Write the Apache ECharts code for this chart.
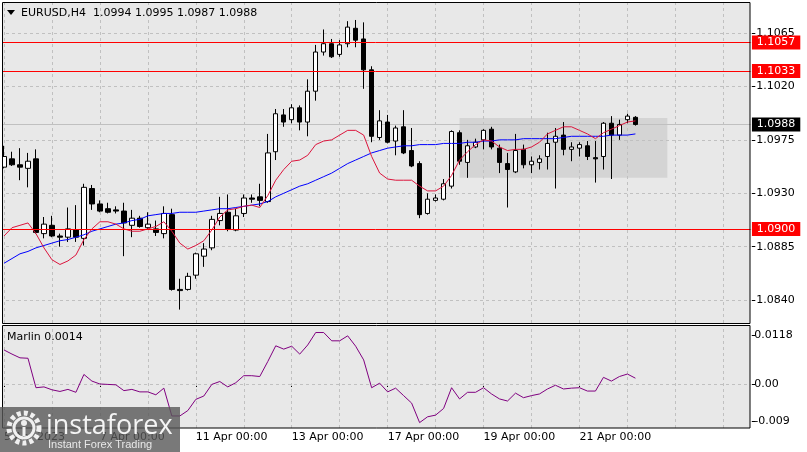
<!DOCTYPE html>
<html><head><meta charset="utf-8">
<script src="https://cdn.jsdelivr.net/npm/echarts@6/dist/echarts.min.js"></script>
<style>html,body{margin:0;padding:0;background:#fff}#c{width:807px;height:452px}</style>
</head><body><div id="c"></div>
<script>
// ---- data (EURUSD H4) ----
const opens = [1.0952,1.0959,1.0954,1.0951,1.0959,1.0896,1.0903,1.0894,1.0893,1.0899,
 1.0892,1.0934,1.0921,1.0917,1.0916,1.0915,1.0903,1.0909,1.0901,1.0900,
 1.0896,1.0912,1.0849,1.0849,1.0861,1.0877,1.0884,1.0907,1.0914,1.0899,
 1.0913,1.0926,1.0927,1.0923,1.0965,1.0996,1.0992,1.1002,1.0990,1.1016,
 1.1049,1.1056,1.1047,1.1056,1.1069,1.1060,1.1034,1.0977,1.0990,1.0974,
 1.0986,1.0966,1.0955,1.0913,1.0924,1.0925,1.0936,1.0981,1.0956,1.0969,
 1.0975,1.0984,1.0968,1.0955,1.0948,1.0967,1.0954,1.0956,1.0961,1.0973,
 1.0979,1.0967,1.0968,1.0970,1.0960,1.0961,1.0989,1.0979,1.0992,1.0994];
const closes = [1.0961,1.0954,1.0952,1.0957,1.0897,1.0904,1.0894,1.0893,1.0900,1.0893,
 1.0935,1.0921,1.0915,1.0914,1.0915,1.0905,1.0909,1.0902,1.0904,1.0897,
 1.0913,1.0849,1.0848,1.0860,1.0879,1.0883,1.0908,1.0913,1.0900,1.0911,
 1.0926,1.0925,1.0924,1.0964,1.0997,1.0990,1.1002,1.0990,1.1016,1.1049,
 1.1056,1.1045,1.1055,1.1070,1.1059,1.1034,1.0978,1.0991,1.0973,1.0985,
 1.0964,1.0953,1.0912,1.0925,1.0926,1.0938,1.0982,1.0957,1.0970,1.0973,
 1.0983,1.0969,1.0956,1.0950,1.0966,1.0954,1.0957,1.0959,1.0972,1.0978,
 1.0967,1.0969,1.0971,1.0961,1.0959,1.0989,1.0979,1.0988,1.0995,1.0988];
const lows = [1.0951,1.0953,1.0941,1.0935,1.0896,1.0892,1.0893,1.0885,1.0889,1.0889,
 1.0886,1.0916,1.0914,1.0913,1.0913,1.0877,1.0893,1.0901,1.0900,1.0894,
 1.0892,1.0848,1.0832,1.0848,1.0858,1.0868,1.0882,1.0903,1.0898,1.0898,
 1.0910,1.0922,1.0919,1.0922,1.0958,1.0986,1.0989,1.0983,1.0978,1.1008,
 1.1046,1.1044,1.1045,1.1053,1.1053,1.1018,1.0973,1.0975,1.0972,1.0962,
 1.0963,1.0952,1.0909,1.0912,1.0923,1.0924,1.0934,1.0954,1.0943,1.0968,
 1.0967,1.0967,1.0947,1.0918,1.0947,1.0951,1.0947,1.0950,1.0950,1.0934,
 1.0962,1.0957,1.0961,1.0958,1.0939,1.0950,1.0942,1.0975,1.0989,1.0987];
const highs = [1.0970,1.0965,1.0968,1.0964,1.0967,1.0910,1.0911,1.0896,1.0918,1.0920,
 1.0938,1.0937,1.0924,1.0922,1.0919,1.0922,1.0916,1.0911,1.0914,1.0907,
 1.0919,1.0917,1.0858,1.0863,1.0880,1.0888,1.0911,1.0927,1.0929,1.0917,
 1.0929,1.0929,1.0938,1.0980,1.1001,1.1001,1.1005,1.1004,1.1026,1.1055,
 1.1068,1.1060,1.1059,1.1075,1.1076,1.1074,1.1037,1.1000,1.0996,1.0987,
 1.1000,1.0985,1.0957,1.0930,1.0929,1.0942,1.0983,1.0983,1.0975,1.0976,
 1.0984,1.0986,1.0971,1.0964,1.0980,1.0971,1.0961,1.0962,1.0981,1.0985,
 1.0990,1.0973,1.0973,1.0974,1.0974,1.0990,1.0995,1.0992,1.0997,1.0995];
const maFast = [1.0894,1.0901,1.0903,1.0905,1.0896,1.0884,1.0874,1.0870,1.0873,1.0878,
 1.0891,1.0900,1.0906,1.0906,1.0904,1.0900,1.0898,1.0898,1.0900,1.0902,
 1.0906,1.0898,1.0888,1.0883,1.0886,1.0890,1.0899,1.0910,1.0916,1.0917,
 1.0919,1.0920,1.0918,1.0928,1.0941,1.0950,1.0957,1.0958,1.0962,1.0971,
 1.0974,1.0975,1.0979,1.0983,1.0983,1.0979,1.0961,1.0947,1.0942,1.0941,
 1.0941,1.0941,1.0936,1.0932,1.0932,1.0936,1.0945,1.0958,1.0965,1.0971,
 1.0975,1.0974,1.0969,1.0966,1.0967,1.0967,1.0969,1.0973,1.0980,1.0983,
 1.0986,1.0986,1.0983,1.0980,1.0976,1.0981,1.0984,1.0987,1.0990,1.0991];
const maSlow = [1.0871,1.0875,1.0879,1.0881,1.0884,1.0886,1.0888,1.0890,1.0891,1.0893,
 1.0895,1.0898,1.0900,1.0902,1.0904,1.0905,1.0907,1.0908,1.0911,1.0912,
 1.0913,1.0913,1.0914,1.0914,1.0914,1.0915,1.0916,1.0917,1.0917,1.0918,
 1.0919,1.0920,1.0921,1.0923,1.0927,1.0930,1.0933,1.0936,1.0938,1.0941,
 1.0944,1.0947,1.0951,1.0955,1.0958,1.0961,1.0964,1.0966,1.0968,1.0969,
 1.0970,1.0970,1.0971,1.0971,1.0971,1.0972,1.0972,1.0972,1.0973,1.0973,
 1.0974,1.0974,1.0975,1.0975,1.0975,1.0976,1.0976,1.0976,1.0976,1.0976,
 1.0977,1.0978,1.0978,1.0978,1.0978,1.0978,1.0979,1.0979,1.0979,1.0980];
const marlin = [0.0082,0.0072,0.0063,0.0062,-0.0009,-0.0007,-0.0014,-0.0018,-0.0013,-0.0020,
 0.0023,0.0007,0.0000,-0.0001,-0.0002,-0.0016,-0.0013,-0.0019,-0.0019,-0.0026,
 -0.0010,-0.0077,-0.0077,-0.0064,-0.0037,-0.0029,-0.0001,0.0006,-0.0007,0.0003,
 0.0020,0.0020,0.0018,0.0054,0.0092,0.0084,0.0091,0.0072,0.0094,0.0124,
 0.0124,0.0104,0.0104,0.0116,0.0091,0.0058,-0.0009,0.0002,-0.0019,-0.0010,
 -0.0028,-0.0046,-0.0093,-0.0079,-0.0075,-0.0059,-0.0009,-0.0036,-0.0020,-0.0020,
 -0.0009,-0.0024,-0.0036,-0.0041,-0.0022,-0.0033,-0.0028,-0.0024,-0.0012,-0.0003,
 -0.0012,-0.0010,-0.0009,-0.0017,-0.0017,0.0016,0.0007,0.0018,0.0024,0.0014];
const priceTicks = [1.1065, 1.1020, 1.0975, 1.0930, 1.0885, 1.0840];
const priceRange = [1.08207, 1.10903];
const marlinTicks = [0.0118, 0, -0.009];
const marlinTickText = ['0.0118', '0.00', '-0.009'];
const marlinRange = [-0.0106, 0.01397];
const levels = [1.1057, 1.1033, 1.0900];
const lastPrice = 1.0988;
const boxX = [57, 83];
const boxY = [1.09934, 1.09431];
const xLabelIdx = [0, 12, 24, 36, 48, 60, 72];
const xLabelText = ['5 Apr 2023', '7 Apr 00:00', '11 Apr 00:00', '13 Apr 00:00', '17 Apr 00:00', '19 Apr 00:00', '21 Apr 00:00'];
const slotCount = 94;
const gridStep = 6;

// ---- chart ----
const FONT = 'DejaVu Sans';
const cats = Array.from({length: slotCount}, (_, i) => String(i));
const n = opens.length;
const vLines = [];
for (let i = 0; i < slotCount; i += gridStep) vLines.push({xAxis: i});
const gridDash = {type: [3, 3], color: '#c0c0c0', width: 1};
const priceLabel = (bg) => ({show: true, position: 'end', distance: 0.5, formatter: (p) => Number(p.value).toFixed(4),
  backgroundColor: bg, color: '#ffffff', padding: [1, 5, 0, 5], fontSize: 11, fontFamily: FONT, lineHeight: 13});

const chart = echarts.init(document.getElementById('c'), null, {renderer: 'canvas'});
const xBase = {
  type: 'category', data: cats, boundaryGap: true,
  axisLine: {show: false}, axisTick: {show: false}, axisLabel: {show: false}, splitLine: {show: false}
};
const isLabel = (idx) => xLabelIdx.indexOf(idx) >= 0;
chart.setOption({
  animation: false,
  backgroundColor: '#ffffff',
  grid: [
    {left: -0.7, top: 3, width: 752, height: 320},
    {left: -0.7, top: 326, width: 752, height: 102}
  ],
  xAxis: [
    Object.assign({gridIndex: 0}, xBase),
    Object.assign({}, xBase, {
      gridIndex: 1,
      axisTick: {show: true, interval: (i) => isLabel(i), alignWithLabel: true, length: 3, lineStyle: {color: '#000'}},
      axisLabel: {show: true, interval: (i) => isLabel(i), formatter: (v, i) => xLabelText[xLabelIdx.indexOf(i)] || '',
        align: 'left', margin: 4, color: '#000', fontSize: 11, fontFamily: FONT}
    })
  ],
  yAxis: [
    {type: 'value', gridIndex: 0, position: 'right', min: priceRange[0], max: priceRange[1],
      axisLine: {show: false}, splitLine: {show: false},
      axisTick: {show: true, length: 4, customValues: priceTicks, lineStyle: {color: '#000'}},
      axisLabel: {customValues: priceTicks, formatter: (v) => v.toFixed(4), margin: 5, color: '#000', fontSize: 11, fontFamily: FONT}},
    {type: 'value', gridIndex: 1, position: 'right', min: marlinRange[0], max: marlinRange[1],
      axisLine: {show: false}, splitLine: {show: false},
      axisTick: {show: true, length: 4, customValues: marlinTicks, lineStyle: {color: '#000'}},
      axisLabel: {customValues: marlinTicks, margin: 3, color: '#000', fontSize: 11, fontFamily: FONT,
        formatter: (v) => { const k = marlinTicks.findIndex(t => Math.abs(t - v) < 1e-9); return k >= 0 ? marlinTickText[k] : ''; }}}
  ],
  series: [
    {
      type: 'candlestick', xAxisIndex: 0, yAxisIndex: 0, z: 2,
      data: opens.map((o, i) => [o, closes[i], lows[i], highs[i]]),
      barWidth: 5,
      itemStyle: {color: '#ffffff', color0: '#000000', borderColor: '#000000', borderColor0: '#000000', borderWidth: 1},
      emphasis: {disabled: true},
      markArea: {silent: true, z: 1, itemStyle: {color: '#d4d4d4'},
        data: [[{xAxis: boxX[0], yAxis: boxY[0]}, {xAxis: boxX[1], yAxis: boxY[1]}]]}
    },
    {
      type: 'line', xAxisIndex: 0, yAxisIndex: 0, z: 3, data: maSlow, symbol: 'none', smooth: false,
      lineStyle: {color: '#0000ff', width: 1}, silent: true,
      markLine: {silent: true, z: 1.5, precision: 6, symbol: 'none', animation: false, lineStyle: gridDash, label: {show: false},
        data: vLines.concat(priceTicks.map(v => ({yAxis: v}))).concat([{yAxis: lastPrice,
          lineStyle: {type: 'solid', color: '#c0c0c0', width: 1}, label: priceLabel('#000000')}])}
    },
    {
      type: 'line', xAxisIndex: 0, yAxisIndex: 0, z: 3, data: maFast, symbol: 'none', smooth: false,
      lineStyle: {color: '#dc143c', width: 1}, silent: true,
      markLine: {silent: true, z: 5, precision: 6, symbol: 'none', animation: false,
        lineStyle: {type: 'solid', color: '#ff0000', width: 1}, label: priceLabel('#ff0000'),
        data: levels.map(v => ({yAxis: v}))}
    },
    {
      type: 'line', xAxisIndex: 1, yAxisIndex: 1, z: 3, data: marlin, symbol: 'none', smooth: false,
      lineStyle: {color: '#800080', width: 1}, silent: true,
      markLine: {silent: true, z: 1.5, precision: 6, symbol: 'none', animation: false, lineStyle: gridDash, label: {show: false},
        data: vLines.concat([{yAxis: 0}])}
    }
  ],
  graphic: [
    {type: 'rect', z: -10, silent: true, shape: {x: 3, y: 3, width: 747, height: 320}, style: {fill: '#e8e8e8'}},
    {type: 'rect', z: -10, silent: true, shape: {x: 3, y: 326, width: 747, height: 102}, style: {fill: '#e8e8e8'}},
    {type: 'rect', z: 99, silent: true, shape: {x: 0, y: 0, width: 2.5, height: 452}, style: {fill: '#ffffff'}},
    {type: 'rect', z: 99, silent: true, shape: {x: 750.5, y: 0, width: 1.2, height: 452}, style: {fill: '#ffffff'}},
    {type: 'rect', z: 100, silent: true, shape: {x: 2.5, y: 2.5, width: 747.5, height: 321}, style: {fill: 'none', stroke: '#000', lineWidth: 1}},
    {type: 'rect', z: 100, silent: true, shape: {x: 2.5, y: 325.5, width: 747.5, height: 102.5}, style: {fill: 'none', stroke: '#000', lineWidth: 1}},
    {type: 'polygon', z: 100, silent: true, shape: {points: [[7, 10], [15, 10], [11, 15]]}, style: {fill: '#000'}},
    {type: 'text', z: 100, silent: true, x: 21, y: 13,
      style: {text: 'EURUSD,H4  ' + [opens[n - 1], highs[n - 1], lows[n - 1], closes[n - 1]].map(v => v.toFixed(4)).join(' '),
        fontSize: 11, fontFamily: FONT, fill: '#000', verticalAlign: 'middle'}},
    {type: 'text', z: 100, silent: true, x: 7, y: 337,
      style: {text: 'Marlin ' + marlin[n - 1].toFixed(4), fontSize: 11, fontFamily: FONT, fill: '#000', verticalAlign: 'middle'}},
    // watermark
    {type: 'rect', z: 110, silent: true, shape: {x: 0, y: 407, width: 180, height: 45}, style: {fill: 'rgba(88,88,88,0.8)'}},
    {type: 'circle', z: 111, silent: true, shape: {cx: 24, cy: 428, r: 15}, style: {fill: 'none', stroke: '#f0f0f0', lineWidth: 5, lineDash: [4, 3]}},
    {type: 'circle', z: 111, silent: true, shape: {cx: 24, cy: 428, r: 10}, style: {fill: 'none', stroke: '#f0f0f0', lineWidth: 3}},
    {type: 'circle', z: 111, silent: true, shape: {cx: 24, cy: 423, r: 3}, style: {fill: '#f0f0f0'}},
    {type: 'rect', z: 111, silent: true, shape: {x: 22.5, y: 427, width: 3, height: 9}, style: {fill: '#f0f0f0'}},
    {type: 'text', z: 111, silent: true, x: 46, y: 426,
      style: {text: 'instaforex', fontSize: 27, fontFamily: 'Open Sans', fill: '#f4f4f4', verticalAlign: 'middle'}},
    {type: 'text', z: 111, silent: true, x: 48, y: 445,
      style: {text: 'Instant Forex Trading', fontSize: 11, fontFamily: 'Liberation Sans', fill: '#e8e8e8', verticalAlign: 'middle'}}
  ]
});
</script></body></html>
